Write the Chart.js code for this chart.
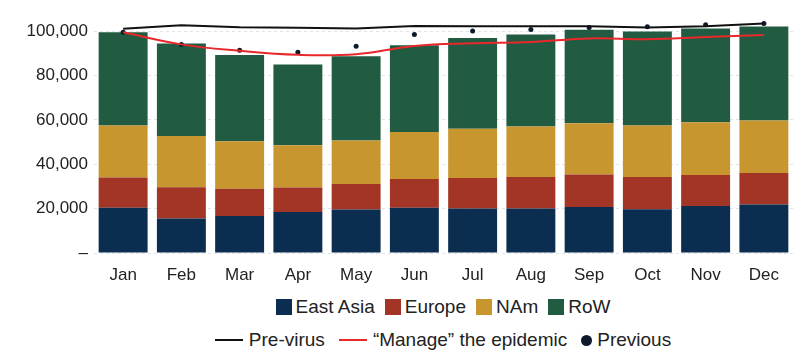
<!DOCTYPE html>
<html>
<head>
<meta charset="utf-8">
<script src="https://cdn.jsdelivr.net/npm/chart.js@4/dist/chart.umd.min.js"></script>
<style>
  html, body { margin: 0; padding: 0; background: #fff; }
  body { width: 800px; height: 361px; overflow: hidden; font-family: "Liberation Sans", Arial, sans-serif; color: #222; }
  #wrap { position: relative; width: 800px; height: 285px; }
  .legend { position: absolute; left: 94px; width: 698px; display: flex; justify-content: center; align-items: center; font-size: 19px; white-space: nowrap; }
  .legend .item { display: flex; align-items: center; margin: 0 5px; }
  .legend .box { width: 16px; height: 16px; margin-right: 4px; }
  .legend .line { width: 28px; height: 2px; margin-right: 6px; }
  .legend .dot { width: 11px; height: 11px; border-radius: 50%; margin-right: 5px; }
  #legend2 .item { margin: 0 7px; }
  #legend1 { top: 296px; }
  #legend2 { top: 329px; }
</style>
</head>
<body>
<div id="wrap"><canvas id="chart"></canvas></div>
<div class="legend" id="legend1"></div>
<div class="legend" id="legend2"></div>
<script>
const months = ['Jan', 'Feb', 'Mar', 'Apr', 'May', 'Jun', 'Jul', 'Aug', 'Sep', 'Oct', 'Nov', 'Dec'];

// stacked components
const eastAsia = [20400, 15500, 16700, 18500, 19600, 20400, 20100, 20100, 20700, 19700, 21200, 21900];
const europe   = [13600, 14100, 12200, 11000, 11500, 12900, 13700, 14100, 14700, 14500, 14000, 14100];
const nAm      = [23500, 23100, 21500, 19100, 19600, 21200, 22200, 22800, 23100, 23300, 23700, 23700];
const row      = [42000, 41700, 38800, 36300, 37900, 39100, 40900, 41400, 42100, 42300, 42300, 42400];

// scenario lines
const preVirus = [101000, 102600, 101700, 101500, 101200, 102300, 102200, 102200, 102200, 101600, 102200, 103400];
const manage   = [99500, 94000, 91100, 89300, 89600, 93300, 94500, 95100, 96700, 96300, 97300, 98200];
const previous = [99500, 94000, 91400, 90400, 93200, 98500, 100000, 100700, 101600, 101900, 102800, 103400];

const yTicks = [0, 20000, 40000, 60000, 80000, 100000];

const colors = {
    eastAsia: '#0b2d4f',
    europe: '#a23525',
    nAm: '#c8962e',
    row: '#215b41',
    preVirus: '#111111',
    manage: '#e8282a',
    previous: '#0d1a2b'
};

const bar = (label, data, color) => ({
    type: 'bar', label, data,
    backgroundColor: color,
    stack: 'regions',
    order: 2,
    barPercentage: 0.84,
    categoryPercentage: 1.0
});

const fontSpec = { family: '"Liberation Sans", Arial, sans-serif', size: 17 };

const chart = new Chart(document.getElementById('chart'), {
    data: {
        labels: months,
        datasets: [
            bar('East Asia', eastAsia, colors.eastAsia),
            bar('Europe', europe, colors.europe),
            bar('NAm', nAm, colors.nAm),
            bar('RoW', row, colors.row),
            {
                type: 'line', label: 'Pre-virus', data: preVirus, stack: 'pre',
                borderColor: colors.preVirus, borderWidth: 2, tension: 0, pointRadius: 0, order: 0
            },
            {
                type: 'line', label: '\u201cManage\u201d the epidemic', data: manage, stack: 'manage',
                borderColor: colors.manage, borderWidth: 2, tension: 0.4, pointRadius: 0, order: 0
            },
            {
                type: 'line', label: 'Previous', data: previous, stack: 'prev', showLine: false,
                pointRadius: 2.5, pointBackgroundColor: colors.previous, pointBorderWidth: 0, order: 0
            }
        ]
    },
    options: {
        responsive: false,
        animation: false,
        maintainAspectRatio: false,
        layout: { padding: { top: 5, right: 7, left: 0, bottom: 0 } },
        plugins: { legend: { display: false }, tooltip: { enabled: false } },
        scales: {
            x: {
                stacked: true,
                grid: { display: false },
                border: { display: false },
                ticks: { color: '#222', font: fontSpec, padding: 4 },
                afterFit: (scale) => { scale.height = 32; }
            },
            y: {
                stacked: true,
                min: 0,
                max: 106700,
                afterBuildTicks: (scale) => { scale.ticks = yTicks.map(v => ({ value: v })); },
                afterFit: (scale) => { scale.width = 94; },
                grid: { color: '#dfe4ea', lineWidth: 1, drawTicks: false },
                border: { display: false, dash: [3, 3] },
                ticks: {
                    color: '#222', font: fontSpec, padding: 6,
                    callback: (v) => v === 0 ? '\u2013' : v.toLocaleString('en-US')
                }
            }
        }
    }
});
chart.canvas.style.width = '800px';
chart.canvas.style.height = '285px';
chart.resize(800, 285);

// html legend, two rows like the original
const legend1 = document.getElementById('legend1');
const legend2 = document.getElementById('legend2');
chart.data.datasets.forEach((ds) => {
    const item = document.createElement('div');
    item.className = 'item';
    const mark = document.createElement('span');
    if (ds.type === 'bar') {
        mark.className = 'box';
        mark.style.background = ds.backgroundColor;
    } else if (ds.showLine === false) {
        mark.className = 'dot';
        mark.style.background = ds.pointBackgroundColor;
    } else {
        mark.className = 'line';
        mark.style.background = ds.borderColor;
    }
    const text = document.createElement('span');
    text.textContent = ds.label;
    item.appendChild(mark);
    item.appendChild(text);
    (ds.type === 'bar' ? legend1 : legend2).appendChild(item);
});
</script>
</body>
</html>
